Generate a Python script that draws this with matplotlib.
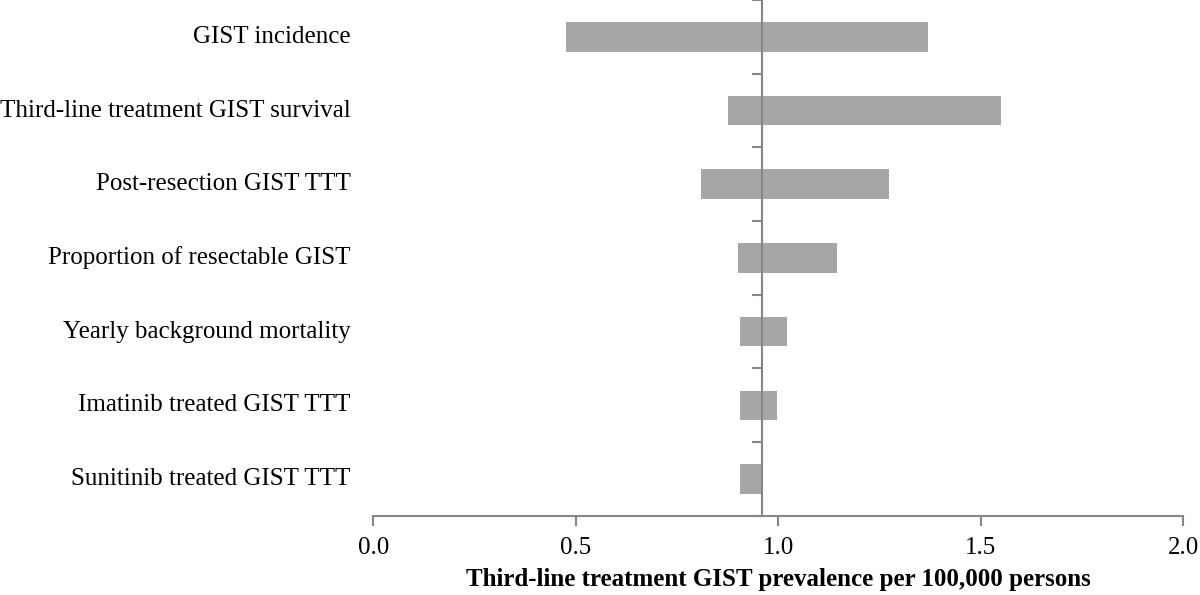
import matplotlib
matplotlib.use("Agg")
import matplotlib.pyplot as plt
import matplotlib.transforms as mtransforms
import numpy as np

plt.rcParams['font.family'] = ['Liberation Serif', 'DejaVu Serif']

# parameters, top to bottom
labels = ["GIST incidence",
          "Third-line treatment GIST survival",
          "Post-resection GIST TTT",
          "Proportion of resectable GIST",
          "Yearly background mortality",
          "Imatinib treated GIST TTT",
          "Sunitinib treated GIST TTT"]
low = [0.477, 0.877, 0.809, 0.900, 0.905, 0.905, 0.906]
high = [1.369, 1.551, 1.274, 1.146, 1.022, 0.998, 0.961]
base = 0.961   # base case prevalence
xticks = [0.0, 0.5, 1.0, 1.5, 2.0]

fig = plt.figure(figsize=(12, 5.95), dpi=100)
ax = fig.add_axes([0.311, 0.133, 0.675, 0.867])

y = np.arange(len(labels))
widths = np.array(high) - np.array(low)
ax.barh(y, widths, left=low, height=0.4, color='#a6a6a6', zorder=1)

ax.set_xlim(0, 2.0)
ax.set_ylim(len(labels) - 0.5, -0.5)

# axis through the base case
for s in ['top', 'right']:
    ax.spines[s].set_visible(False)
ax.spines['left'].set_position(('data', base))
ax.spines['left'].set_color('#868686')
ax.spines['left'].set_linewidth(1.5)
ax.spines['left'].set_zorder(3)
ax.spines['bottom'].set_color('#868686')
ax.spines['bottom'].set_linewidth(1.5)

ax.set_yticks(np.arange(-0.5, len(labels), 1.0))
ax.set_yticklabels([])
ax.tick_params(axis='y', direction='out', length=7, width=1.5, color='#868686')

ax.set_xticks(xticks)
ax.set_xticklabels(['%.1f' % v for v in xticks], fontsize=18)
ax.tick_params(axis='x', direction='out', length=7, width=1.5, color='#868686', pad=8)

trans = mtransforms.blended_transform_factory(ax.transAxes, ax.transData)
for yi, lab in zip(y, labels):
    ax.text(-0.028, yi, lab, transform=trans, ha='right', va='center', fontsize=18)

ax.set_xlabel("Third-line treatment GIST prevalence per 100,000 persons",
              fontsize=18, fontweight='bold', labelpad=7)

fig.savefig("out.png", dpi=100)
